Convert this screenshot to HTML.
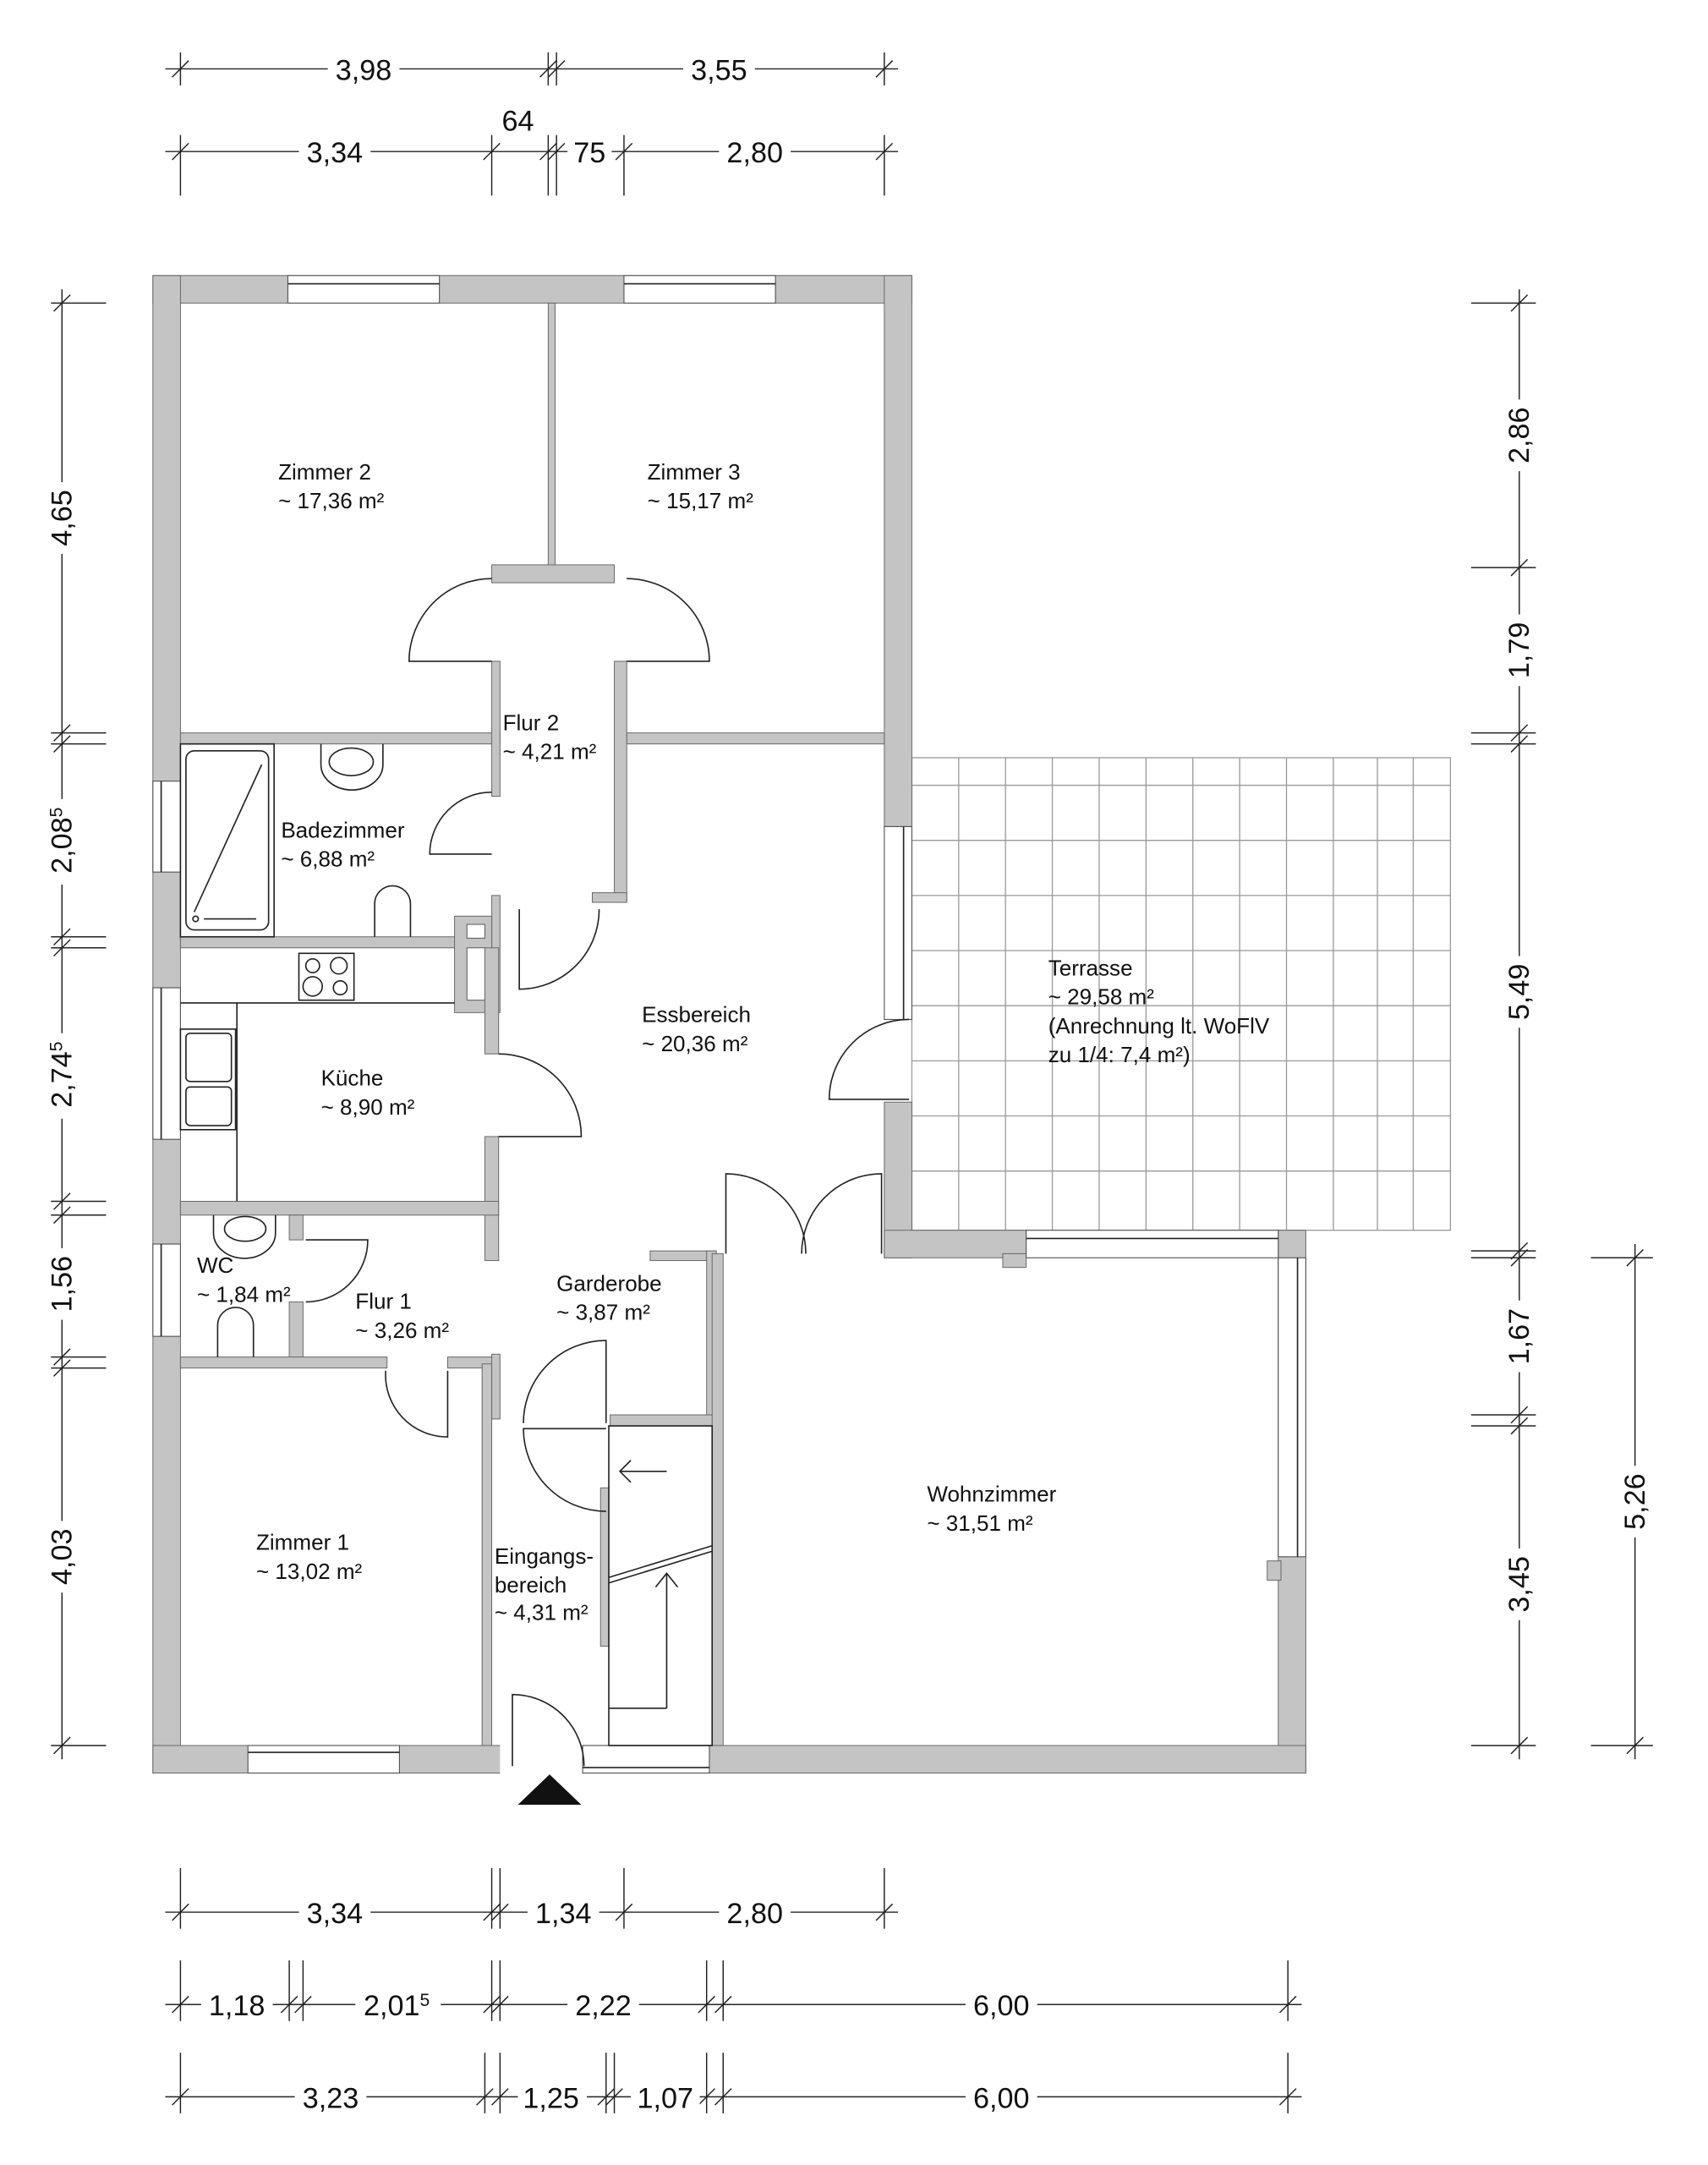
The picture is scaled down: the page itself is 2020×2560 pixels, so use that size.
<!DOCTYPE html>
<html><head><meta charset="utf-8"><style>
html,body{margin:0;padding:0;background:#fff}
svg{display:block}
text{font-family:"Liberation Sans",sans-serif;fill:#111}
.r{font-size:16px}
.d{font-size:21px}
.w{fill:#c4c4c4;stroke:#666;stroke-width:0.6}
.win{fill:#fff;stroke:#555;stroke-width:0.7}
.l{fill:none;stroke:#222;stroke-width:1}
.dim{stroke:#222;stroke-width:0.9;fill:none}
.g{stroke:#999;stroke-width:0.8}
</style></head><body>
<svg width="2020" height="2560" viewBox="0 0 1240 1571.5" preserveAspectRatio="none" xmlns="http://www.w3.org/2000/svg">
<rect x="0" y="0" width="1240" height="1572" fill="#fff"/>

<!-- Terrace grid -->
<g class="g">
<rect x="662" y="550" width="391" height="343" fill="#fff" stroke="#999"/>
<line x1="696" y1="550" x2="696" y2="893"/><line x1="730" y1="550" x2="730" y2="893"/>
<line x1="764" y1="550" x2="764" y2="893"/><line x1="798" y1="550" x2="798" y2="893"/>
<line x1="832" y1="550" x2="832" y2="893"/><line x1="866" y1="550" x2="866" y2="893"/>
<line x1="900" y1="550" x2="900" y2="893"/><line x1="934" y1="550" x2="934" y2="893"/>
<line x1="968" y1="550" x2="968" y2="893"/><line x1="1000" y1="550" x2="1000" y2="893"/>
<line x1="1026" y1="550" x2="1026" y2="893"/>
<line x1="662" y1="570" x2="1053" y2="570"/><line x1="662" y1="610" x2="1053" y2="610"/>
<line x1="662" y1="650" x2="1053" y2="650"/><line x1="662" y1="690" x2="1053" y2="690"/>
<line x1="662" y1="730" x2="1053" y2="730"/><line x1="662" y1="770" x2="1053" y2="770"/>
<line x1="662" y1="810" x2="1053" y2="810"/><line x1="662" y1="850" x2="1053" y2="850"/>
</g>

<!-- Outer walls -->
<rect class="w" x="111" y="200" width="551" height="20"/>
<rect class="w" x="111" y="200" width="20" height="1087"/>
<rect class="w" x="642" y="200" width="20" height="400"/>
<rect class="w" x="642" y="800" width="20" height="113"/>
<rect class="w" x="642" y="893" width="103" height="20"/>
<rect class="w" x="728" y="910" width="17" height="10"/>
<rect class="w" x="928" y="893" width="20" height="394"/>
<rect class="w" x="920" y="1133" width="10" height="14"/>
<rect class="w" x="111" y="1267" width="837" height="20"/>
<!-- windows -->
<rect class="win" x="209" y="200" width="110" height="20"/><line class="l" x1="209" y1="206" x2="319" y2="206"/>
<rect class="win" x="453" y="200" width="110" height="20"/><line class="l" x1="453" y1="206" x2="563" y2="206"/>
<rect class="win" x="111" y="567" width="20" height="66"/><line class="l" x1="117" y1="567" x2="117" y2="633"/>
<rect class="win" x="111" y="717" width="20" height="110"/><line class="l" x1="117" y1="717" x2="117" y2="827"/>
<rect class="win" x="111" y="903" width="20" height="67"/><line class="l" x1="117" y1="903" x2="117" y2="970"/>
<rect class="win" x="642" y="600" width="20" height="140"/><line class="l" x1="656" y1="600" x2="656" y2="740"/>
<rect class="win" x="745" y="893" width="183" height="20"/><line class="l" x1="745" y1="899" x2="928" y2="899"/>
<rect class="win" x="928" y="913" width="20" height="217"/><line class="l" x1="942" y1="913" x2="942" y2="1130"/>
<rect class="win" x="180" y="1267" width="110" height="20"/><line class="l" x1="180" y1="1272" x2="290" y2="1272"/>
<rect fill="#fff" x="363" y="1266" width="60" height="22"/>
<rect class="win" x="423" y="1267" width="92" height="20"/><line class="l" x1="423" y1="1283" x2="515" y2="1283"/>

<!-- Interior walls -->
<rect class="w" x="398" y="220" width="5" height="193"/>
<rect class="w" x="357" y="410" width="89" height="13"/>
<rect class="w" x="131" y="532" width="232" height="8"/>
<rect class="w" x="455" y="532" width="187" height="8"/>
<rect class="w" x="357" y="480" width="6" height="98"/>
<rect class="w" x="357" y="650" width="6" height="85"/>
<rect class="w" x="446" y="480" width="9" height="175"/>
<rect class="w" x="430" y="648" width="25" height="7"/>
<rect class="w" x="131" y="680" width="206" height="8"/>
<rect class="w" x="330" y="665" width="27" height="70"/>
<rect fill="#fff" stroke="#555" stroke-width="0.6" x="339" y="671" width="13" height="10"/>
<rect fill="#fff" stroke="#555" stroke-width="0.6" x="339" y="688" width="13" height="38"/>
<rect class="w" x="352" y="688" width="10" height="77"/>
<rect class="w" x="352" y="825" width="10" height="90"/>
<rect class="w" x="131" y="872" width="231" height="10"/>
<rect class="w" x="210" y="882" width="10" height="18"/>
<rect class="w" x="210" y="945" width="10" height="45"/>
<rect class="w" x="131" y="985" width="150" height="8"/>
<rect class="w" x="325" y="985" width="35" height="8"/>
<rect class="w" x="350" y="990" width="7" height="277"/>
<rect class="w" x="357" y="983" width="6" height="47"/>
<rect class="w" x="472" y="908" width="48" height="7"/>
<rect class="w" x="513" y="908" width="7" height="125"/>
<rect class="w" x="443" y="1027" width="77" height="8"/>
<rect class="w" x="517" y="910" width="8" height="357"/>
<rect class="w" x="436" y="1080" width="6" height="115"/>
<!-- closet lines -->
<g class="l">
<rect x="442" y="1035" width="75" height="232"/>
<line x1="442" y1="1240" x2="484" y2="1240"/>
<polyline points="484,1240 484,1142"/>
<polyline points="476,1152 484,1142 492,1152"/>
<polyline points="484,1068 450,1068"/>
<polyline points="458,1060 450,1068 458,1076"/>
<line x1="442" y1="1145" x2="517" y2="1122"/>
<line x1="442" y1="1149" x2="517" y2="1126"/>
</g>

<!-- Doors -->
<g class="l">
<path d="M357,480 L297,480 A60,60 0 0 1 357,420"/>
<path d="M455,480 L515,480 A60,60 0 0 0 455,420"/>
<path d="M357,620 L312,620 A45,45 0 0 1 357,575"/>
<path d="M377,660 L377,718 A58,58 0 0 0 435,660"/>
<path d="M362,825 L422,825 A60,60 0 0 0 362,765"/>
<path d="M660,798 L602,798 A58,58 0 0 1 660,740"/>
<path d="M527,910 L527,852 A58,58 0 0 1 585,910"/>
<path d="M640,910 L640,852 A58,58 0 0 0 582,910"/>
<path d="M222,900 L267,900 A45,45 0 0 1 222,945"/>
<path d="M325,995 L325,1043 A45,45 0 0 1 280,995"/>
<path d="M440,1033 L440,973 A60,60 0 0 0 380,1033"/>
<path d="M440,1037 L380,1037 A60,60 0 0 0 440,1097"/>
<path d="M372,1282 L372,1230 A52,52 0 0 1 424,1282"/>
</g>
<polygon points="376,1310 422,1310 399,1288" fill="#111"/>

<!-- Fixtures -->
<g class="l" stroke-width="0.8">
<rect x="131" y="540" width="68" height="140" fill="none"/>
<rect x="135" y="545" width="60" height="130" rx="6"/>
<line x1="141" y1="662" x2="190" y2="555"/>
<circle cx="142" cy="667" r="2"/><line x1="148" y1="667" x2="186" y2="667"/>
<path d="M233,540 L233,555 A22,18 0 0 0 278,555 L278,540"/>
<ellipse cx="255" cy="553" rx="16" ry="10"/>
<path d="M272,680 L272,656 A13,13 0 0 1 298,656 L298,680"/>
<rect x="217" y="692" width="40" height="34"/>
<circle cx="227" cy="701" r="5"/><circle cx="246" cy="701" r="6"/>
<circle cx="227" cy="716" r="7"/><circle cx="247" cy="717" r="5"/>
<polyline points="131,728 172,728 172,872"/>
<line x1="172" y1="728" x2="330" y2="728"/>
<rect x="131" y="747" width="40" height="73"/>
<rect x="135" y="750" width="33" height="35" rx="3"/>
<rect x="135" y="789" width="33" height="28" rx="3"/>
<path d="M155,882 L155,895 A22,18 0 0 0 200,895 L200,882"/>
<ellipse cx="178" cy="892" rx="15" ry="9"/>
<path d="M158,985 L158,962 A13,13 0 0 1 184,962 L184,985"/>
</g>

<!-- Room labels -->
<g class="r">
<text x="202" y="348">Zimmer 2</text><text x="202" y="369">~ 17,36 m²</text>
<text x="470" y="348">Zimmer 3</text><text x="470" y="369">~ 15,17 m²</text>
<text x="365" y="530">Flur 2</text><text x="365" y="551">~ 4,21 m²</text>
<text x="204" y="608">Badezimmer</text><text x="204" y="629">~ 6,88 m²</text>
<text x="466" y="742">Essbereich</text><text x="466" y="763">~ 20,36 m²</text>
<text x="761" y="708">Terrasse</text><text x="761" y="729">~ 29,58 m²</text>
<text x="761" y="750">(Anrechnung lt. WoFlV</text><text x="761" y="771">zu 1/4: 7,4 m²)</text>
<text x="233" y="788">Küche</text><text x="233" y="809">~ 8,90 m²</text>
<text x="143" y="924">WC</text><text x="143" y="945">~ 1,84 m²</text>
<text x="258" y="950">Flur 1</text><text x="258" y="971">~ 3,26 m²</text>
<text x="404" y="937">Garderobe</text><text x="404" y="958">~ 3,87 m²</text>
<text x="186" y="1125">Zimmer 1</text><text x="186" y="1146">~ 13,02 m²</text>
<text x="359" y="1135">Eingangs-</text><text x="359" y="1156">bereich</text><text x="359" y="1176">~ 4,31 m²</text>
<text x="673" y="1090">Wohnzimmer</text><text x="673" y="1111">~ 31,51 m²</text>
</g>

<!-- Dimensions top -->
<g class="dim">
<line x1="120" y1="50" x2="652" y2="50"/>
<line x1="131" y1="38" x2="131" y2="62"/><line x1="398" y1="38" x2="398" y2="62"/><line x1="404" y1="38" x2="404" y2="62"/><line x1="642" y1="38" x2="642" y2="62"/>
<line x1="125" y1="56" x2="137" y2="44"/><line x1="392" y1="56" x2="404" y2="44"/><line x1="398" y1="56" x2="410" y2="44"/><line x1="636" y1="56" x2="648" y2="44"/>
<line x1="120" y1="110" x2="652" y2="110"/>
<line x1="131" y1="98" x2="131" y2="142"/><line x1="357" y1="98" x2="357" y2="142"/><line x1="398" y1="98" x2="398" y2="142"/><line x1="404" y1="98" x2="404" y2="142"/><line x1="453" y1="98" x2="453" y2="142"/><line x1="642" y1="98" x2="642" y2="142"/>
<line x1="125" y1="116" x2="137" y2="104"/><line x1="351" y1="116" x2="363" y2="104"/><line x1="392" y1="116" x2="404" y2="104"/><line x1="398" y1="116" x2="410" y2="104"/><line x1="447" y1="116" x2="459" y2="104"/><line x1="636" y1="116" x2="648" y2="104"/>
</g>
<g class="d" text-anchor="middle">
<rect x="238" y="38" width="52" height="24" fill="#fff"/><text x="264" y="58">3,98</text>
<rect x="496" y="38" width="52" height="24" fill="#fff"/><text x="522" y="58">3,55</text>
<rect x="217" y="98" width="52" height="24" fill="#fff"/><text x="243" y="118">3,34</text>
<text x="376" y="95">64</text>
<rect x="412" y="98" width="32" height="24" fill="#fff"/><text x="428" y="118">75</text>
<rect x="522" y="98" width="52" height="24" fill="#fff"/><text x="548" y="118">2,80</text>
</g>

<!-- Dimensions left -->
<g class="dim">
<line x1="45" y1="210" x2="45" y2="1277"/>
<line x1="37" y1="220" x2="77" y2="220"/><line x1="37" y1="532" x2="77" y2="532"/><line x1="37" y1="540" x2="77" y2="540"/>
<line x1="37" y1="680" x2="77" y2="680"/><line x1="37" y1="688" x2="77" y2="688"/><line x1="37" y1="872" x2="77" y2="872"/>
<line x1="37" y1="882" x2="77" y2="882"/><line x1="37" y1="985" x2="77" y2="985"/><line x1="37" y1="993" x2="77" y2="993"/><line x1="37" y1="1267" x2="77" y2="1267"/>
<line x1="39" y1="226" x2="51" y2="214"/><line x1="39" y1="538" x2="51" y2="526"/><line x1="39" y1="546" x2="51" y2="534"/>
<line x1="39" y1="686" x2="51" y2="674"/><line x1="39" y1="694" x2="51" y2="682"/><line x1="39" y1="878" x2="51" y2="866"/>
<line x1="39" y1="888" x2="51" y2="876"/><line x1="39" y1="991" x2="51" y2="979"/><line x1="39" y1="999" x2="51" y2="987"/><line x1="39" y1="1273" x2="51" y2="1261"/>
</g>
<g class="d" text-anchor="middle">
<rect x="33" y="350" width="24" height="52" fill="#fff"/><text transform="translate(52,376) rotate(-90)">4,65</text>
<rect x="33" y="580" width="24" height="62" fill="#fff"/><text transform="translate(52,610) rotate(-90)">2,08<tspan font-size="13" dy="-7">5</tspan></text>
<rect x="33" y="750" width="24" height="62" fill="#fff"/><text transform="translate(52,780) rotate(-90)">2,74<tspan font-size="13" dy="-7">5</tspan></text>
<rect x="33" y="906" width="24" height="52" fill="#fff"/><text transform="translate(52,932) rotate(-90)">1,56</text>
<rect x="33" y="1104" width="24" height="52" fill="#fff"/><text transform="translate(52,1130) rotate(-90)">4,03</text>
</g>

<!-- Dimensions right -->
<g class="dim">
<line x1="1103" y1="210" x2="1103" y2="1277"/>
<line x1="1068" y1="220" x2="1115" y2="220"/><line x1="1068" y1="412" x2="1115" y2="412"/><line x1="1068" y1="532" x2="1115" y2="532"/><line x1="1068" y1="540" x2="1115" y2="540"/>
<line x1="1068" y1="908" x2="1115" y2="908"/><line x1="1068" y1="913" x2="1115" y2="913"/><line x1="1068" y1="1027" x2="1115" y2="1027"/><line x1="1068" y1="1035" x2="1115" y2="1035"/><line x1="1068" y1="1267" x2="1115" y2="1267"/>
<line x1="1097" y1="226" x2="1109" y2="214"/><line x1="1097" y1="418" x2="1109" y2="406"/><line x1="1097" y1="538" x2="1109" y2="526"/><line x1="1097" y1="546" x2="1109" y2="534"/>
<line x1="1097" y1="914" x2="1109" y2="902"/><line x1="1097" y1="919" x2="1109" y2="907"/><line x1="1097" y1="1033" x2="1109" y2="1021"/><line x1="1097" y1="1041" x2="1109" y2="1029"/><line x1="1097" y1="1273" x2="1109" y2="1261"/>
<line x1="1187" y1="903" x2="1187" y2="1277"/>
<line x1="1155" y1="913" x2="1200" y2="913"/><line x1="1155" y1="1267" x2="1200" y2="1267"/>
<line x1="1181" y1="919" x2="1193" y2="907"/><line x1="1181" y1="1273" x2="1193" y2="1261"/>
</g>
<g class="d" text-anchor="middle">
<rect x="1091" y="290" width="24" height="52" fill="#fff"/><text transform="translate(1110,316) rotate(-90)">2,86</text>
<rect x="1091" y="446" width="24" height="52" fill="#fff"/><text transform="translate(1110,472) rotate(-90)">1,79</text>
<rect x="1091" y="694" width="24" height="52" fill="#fff"/><text transform="translate(1110,720) rotate(-90)">5,49</text>
<rect x="1091" y="944" width="24" height="52" fill="#fff"/><text transform="translate(1110,970) rotate(-90)">1,67</text>
<rect x="1091" y="1124" width="24" height="52" fill="#fff"/><text transform="translate(1110,1150) rotate(-90)">3,45</text>
<rect x="1175" y="1064" width="24" height="52" fill="#fff"/><text transform="translate(1194,1090) rotate(-90)">5,26</text>
</g>

<!-- Dimensions bottom -->
<g class="dim">
<line x1="120" y1="1388" x2="652" y2="1388"/>
<line x1="131" y1="1356" x2="131" y2="1400"/><line x1="357" y1="1356" x2="357" y2="1400"/><line x1="363" y1="1356" x2="363" y2="1400"/><line x1="453" y1="1356" x2="453" y2="1400"/><line x1="642" y1="1356" x2="642" y2="1400"/>
<line x1="125" y1="1394" x2="137" y2="1382"/><line x1="351" y1="1394" x2="363" y2="1382"/><line x1="357" y1="1394" x2="369" y2="1382"/><line x1="447" y1="1394" x2="459" y2="1382"/><line x1="636" y1="1394" x2="648" y2="1382"/>
<line x1="120" y1="1455" x2="945" y2="1455"/>
<line x1="131" y1="1423" x2="131" y2="1467"/><line x1="210" y1="1423" x2="210" y2="1467"/><line x1="220" y1="1423" x2="220" y2="1467"/><line x1="357" y1="1423" x2="357" y2="1467"/><line x1="363" y1="1423" x2="363" y2="1467"/><line x1="513" y1="1423" x2="513" y2="1467"/><line x1="525" y1="1423" x2="525" y2="1467"/><line x1="935" y1="1423" x2="935" y2="1467"/>
<line x1="125" y1="1461" x2="137" y2="1449"/><line x1="204" y1="1461" x2="216" y2="1449"/><line x1="214" y1="1461" x2="226" y2="1449"/><line x1="351" y1="1461" x2="363" y2="1449"/><line x1="357" y1="1461" x2="369" y2="1449"/><line x1="507" y1="1461" x2="519" y2="1449"/><line x1="519" y1="1461" x2="531" y2="1449"/><line x1="929" y1="1461" x2="941" y2="1449"/>
<line x1="120" y1="1522" x2="945" y2="1522"/>
<line x1="131" y1="1490" x2="131" y2="1534"/><line x1="352" y1="1490" x2="352" y2="1534"/><line x1="363" y1="1490" x2="363" y2="1534"/><line x1="440" y1="1490" x2="440" y2="1534"/><line x1="446" y1="1490" x2="446" y2="1534"/><line x1="513" y1="1490" x2="513" y2="1534"/><line x1="525" y1="1490" x2="525" y2="1534"/><line x1="935" y1="1490" x2="935" y2="1534"/>
<line x1="125" y1="1528" x2="137" y2="1516"/><line x1="346" y1="1528" x2="358" y2="1516"/><line x1="357" y1="1528" x2="369" y2="1516"/><line x1="434" y1="1528" x2="446" y2="1516"/><line x1="440" y1="1528" x2="452" y2="1516"/><line x1="507" y1="1528" x2="519" y2="1516"/><line x1="519" y1="1528" x2="531" y2="1516"/><line x1="929" y1="1528" x2="941" y2="1516"/>
</g>
<g class="d" text-anchor="middle">
<rect x="217" y="1376" width="52" height="24" fill="#fff"/><text x="243" y="1396">3,34</text>
<rect x="383" y="1376" width="52" height="24" fill="#fff"/><text x="409" y="1396">1,34</text>
<rect x="522" y="1376" width="52" height="24" fill="#fff"/><text x="548" y="1396">2,80</text>
<rect x="146" y="1443" width="52" height="24" fill="#fff"/><text x="172" y="1463">1,18</text>
<rect x="258" y="1443" width="62" height="24" fill="#fff"/><text x="288" y="1463">2,01<tspan font-size="13" dy="-7">5</tspan></text>
<rect x="412" y="1443" width="52" height="24" fill="#fff"/><text x="438" y="1463">2,22</text>
<rect x="701" y="1443" width="52" height="24" fill="#fff"/><text x="727" y="1463">6,00</text>
<rect x="214" y="1510" width="52" height="24" fill="#fff"/><text x="240" y="1530">3,23</text>
<rect x="376" y="1510" width="50" height="24" fill="#fff"/><text x="400" y="1530">1,25</text>
<rect x="458" y="1510" width="50" height="24" fill="#fff"/><text x="483" y="1530">1,07</text>
<rect x="701" y="1510" width="52" height="24" fill="#fff"/><text x="727" y="1530">6,00</text>
</g>
</svg>
</body></html>
